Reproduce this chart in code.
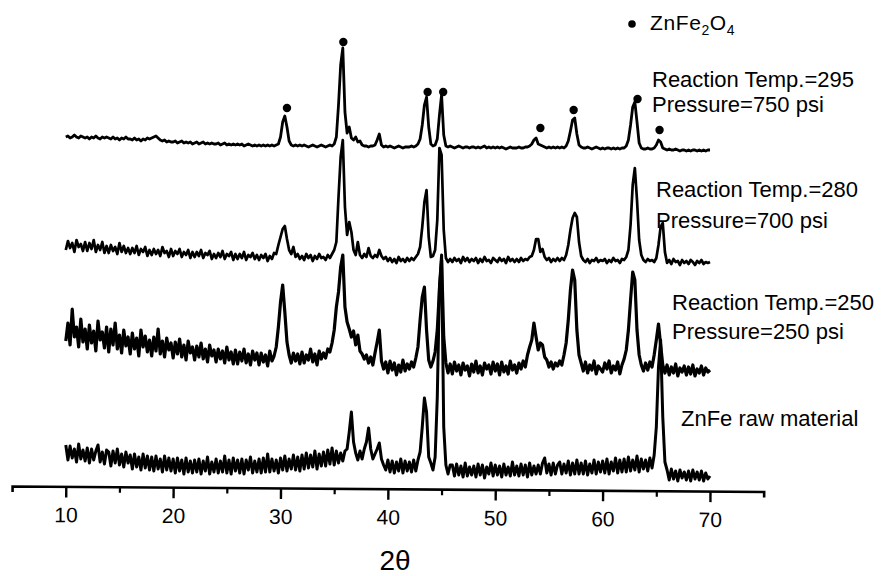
<!DOCTYPE html>
<html>
<head>
<meta charset="utf-8">
<script src="https://cdn.jsdelivr.net/npm/d3@7"></script>
<style>
  body { margin: 0; background: #fff; }
  svg { display: block; font-family: 'Liberation Sans', Arial, sans-serif; }
</style>
</head>
<body>
<svg width="882" height="576"></svg>
<script>
const { select, scaleLinear, axisBottom, line } = d3;

// 2-theta grid of every scan: 10.0 .. 70.0 in 0.2 deg steps
const thetaStart = 10;
const thetaStep = 0.2;

// intensities (a.u.), one row = 2 degrees
const rawMaterial = [
    42, 27, 41, 29, 38, 25, 43, 28, 37, 26,
    39, 24, 38, 27, 36, 42, 25, 35, 23, 37,
    35, 21, 36, 24, 38, 22, 33, 20, 35, 24,
    32, 18, 33, 20, 30, 17, 33, 19, 31, 17,
    30, 16, 31, 18, 28, 15, 31, 17, 29, 16,
    28, 14, 29, 16, 27, 13, 29, 15, 26, 14,
    27, 15, 28, 13, 26, 16, 30, 13, 25, 15,
    28, 14, 26, 15, 31, 14, 27, 13, 29, 16,
    27, 14, 28, 13, 27, 17, 30, 14, 26, 15,
    28, 14, 29, 15, 33, 15, 28, 16, 27, 14,
    29, 17, 31, 16, 28, 18, 32, 17, 30, 16,
    32, 18, 34, 19, 32, 20, 36, 18, 33, 21,
    35, 21, 37, 23, 39, 22, 36, 24, 34, 26,
    36, 38, 55, 75, 45, 34, 27, 36, 28, 38,
    45, 59, 38, 28, 33, 38, 44, 28, 22, 17,
    27, 15, 26, 14, 25, 16, 28, 14, 26, 16,
    25, 15, 27, 16, 27, 35, 60, 89, 75, 30,
    24, 17, 30, 90, 200, 232, 60, 22, 13, 22,
    22, 11, 23, 12, 21, 10, 24, 11, 20, 12,
    21, 10, 23, 12, 22, 9, 20, 13, 24, 11,
    22, 12, 21, 10, 23, 12, 20, 11, 25, 12,
    21, 11, 23, 12, 22, 10, 24, 12, 21, 13,
    22, 13, 24, 29, 14, 23, 12, 24, 13, 22,
    25, 13, 23, 14, 26, 12, 24, 13, 27, 13,
    24, 13, 26, 12, 23, 14, 27, 13, 25, 15,
    26, 14, 28, 13, 25, 16, 29, 14, 27, 15,
    28, 15, 30, 16, 27, 17, 31, 15, 28, 18,
    27, 16, 29, 19, 32, 60, 120, 147, 70, 25,
    17, 7, 18, 8, 16, 6, 17, 9, 15, 7,
    16, 6, 17, 8, 15, 7, 16, 6, 14, 8,
    11
];

const temp250 = [
    46, 64, 42, 78, 50, 60, 40, 68, 45, 58,
    38, 62, 44, 56, 36, 66, 47, 55, 39, 60,
    35, 58, 42, 64, 38, 52, 34, 57, 41, 50,
    33, 54, 38, 49, 31, 57, 40, 51, 35, 47,
    31, 50, 36, 58, 33, 46, 30, 49, 37, 44,
    29, 45, 33, 48, 30, 42, 27, 46, 34, 40,
    27, 41, 30, 44, 28, 38, 25, 42, 31, 37,
    25, 38, 28, 36, 24, 40, 27, 35, 23, 37,
    23, 35, 26, 38, 24, 33, 22, 36, 27, 34,
    22, 34, 25, 32, 21, 36, 26, 31, 40, 60,
    85, 102, 75, 45, 32, 24, 34, 26, 33, 23,
    35, 24, 32, 27, 38, 25, 33, 22, 36, 28,
    34, 29, 38, 35, 44, 57, 80, 95, 120, 132,
    80, 65, 58, 50, 56, 42, 52, 36, 33, 28,
    32, 24, 30, 22, 34, 45, 57, 26, 18, 25,
    14, 26, 17, 24, 12, 22, 15, 27, 16, 23,
    18, 25, 20, 29, 40, 67, 90, 100, 57, 27,
    20, 26, 35, 57, 97, 127, 50, 24, 14, 23,
    13, 25, 16, 22, 12, 24, 17, 21, 11, 23,
    15, 26, 14, 21, 12, 24, 18, 22, 13, 25,
    16, 23, 12, 25, 15, 21, 13, 26, 17, 22,
    14, 24, 18, 26, 20, 32, 40, 47, 64, 50,
    37, 44, 42, 30, 27, 20, 25, 18, 24, 21,
    26, 22, 32, 44, 67, 97, 117, 107, 57, 32,
    24, 16, 25, 14, 22, 17, 26, 13, 21, 18,
    15, 24, 18, 26, 14, 21, 17, 25, 13, 22,
    28, 37, 57, 87, 115, 107, 57, 32, 22, 16,
    24, 17, 25, 20, 32, 47, 63, 42, 22, 14,
    22, 12, 20, 14, 23, 11, 19, 15, 21, 12,
    20, 13, 22, 11, 18, 14, 21, 12, 19, 15,
    17
];

const temp280 = [
    37, 46, 39, 44, 35, 47, 40, 43, 36, 45,
    36, 44, 38, 47, 35, 42, 37, 45, 34, 41,
    34, 42, 36, 40, 33, 44, 35, 41, 34, 39,
    33, 39, 34, 41, 32, 38, 35, 40, 31, 37,
    32, 38, 33, 37, 31, 40, 34, 36, 30, 38,
    31, 36, 33, 38, 30, 35, 32, 37, 29, 35,
    30, 35, 31, 37, 29, 34, 32, 36, 28, 33,
    29, 34, 30, 36, 28, 33, 31, 35, 27, 33,
    28, 33, 29, 35, 27, 32, 30, 34, 28, 32,
    27, 32, 29, 33, 26, 31, 28, 34, 33, 42,
    50, 58, 61, 48, 37, 33, 40, 30, 33, 28,
    31, 27, 33, 29, 32, 26, 31, 28, 33, 29,
    30, 27, 32, 29, 33, 37, 45, 90, 130, 147,
    80, 52, 65, 55, 37, 32, 45, 32, 29, 33,
    30, 39, 31, 29, 32, 30, 37, 31, 28, 30,
    26, 29, 25, 28, 24, 30, 26, 28, 25, 29,
    26, 29, 27, 30, 33, 40, 60, 85, 97, 50,
    30, 31, 37, 67, 139, 132, 57, 29, 25, 28,
    25, 29, 26, 28, 24, 30, 26, 29, 25, 28,
    26, 29, 24, 28, 25, 30, 26, 27, 24, 29,
    27, 25, 29, 26, 28, 24, 30, 26, 28, 25,
    28, 25, 29, 26, 28, 27, 30, 31, 37, 48,
    48, 35, 38, 30, 27, 29, 25, 28, 26, 29,
    26, 29, 27, 32, 42, 57, 69, 74, 70, 45,
    31, 27, 25, 28, 24, 27, 26, 29, 25, 27,
    26, 28, 24, 27, 25, 29, 26, 27, 24, 28,
    27, 30, 37, 62, 102, 119, 87, 47, 32, 27,
    25, 28, 26, 27, 25, 29, 42, 60, 64, 35,
    24, 27, 23, 28, 25, 26, 22, 27, 24, 26,
    23, 27, 25, 22, 26, 24, 27, 23, 25, 24,
    25
];

const temp295 = [
    30, 31, 29, 30, 32, 30, 29, 31, 30, 29,
    30, 28, 30, 29, 31, 29, 28, 30, 29, 30,
    29, 28, 30, 28, 29, 27, 29, 28, 30, 28,
    28, 27, 29, 27, 28, 26, 28, 27, 29, 28,
    29, 30, 31, 29, 27, 26, 27, 25, 26, 25,
    25, 26, 24, 25, 26, 24, 25, 24, 25, 23,
    24, 25, 23, 24, 25, 23, 24, 23, 24, 23,
    23, 24, 22, 23, 24, 22, 23, 22, 23, 22,
    23, 22, 23, 21, 22, 23, 22, 21, 22, 21,
    22, 21, 22, 21, 22, 21, 22, 21, 22, 23,
    30, 45, 51, 40, 26, 22, 21, 22, 21, 22,
    21, 22, 21, 20, 21, 22, 21, 20, 21, 22,
    21, 20, 21, 22, 21, 23, 30, 62, 102, 119,
    55, 34, 40, 29, 27, 30, 25, 26, 22, 21,
    21, 20, 21, 21, 22, 27, 33, 22, 20, 21,
    20, 21, 20, 19, 20, 21, 20, 19, 20, 20,
    20, 21, 20, 21, 23, 28, 42, 62, 70, 40,
    23, 21, 22, 28, 52, 72, 32, 21, 20, 21,
    20, 19, 20, 21, 20, 19, 20, 20, 19, 20,
    20, 19, 20, 19, 20, 21, 19, 20, 19, 20,
    19, 20, 19, 20, 19, 18, 19, 20, 19, 19,
    19, 20, 19, 19, 20, 20, 21, 23, 27, 29,
    23, 22, 21, 20, 19, 20, 19, 20, 19, 20,
    19, 20, 19, 21, 26, 36, 47, 49, 33, 22,
    20, 19, 19, 20, 19, 18, 19, 20, 19, 18,
    19, 18, 19, 19, 18, 19, 18, 19, 18, 19,
    19, 21, 27, 42, 60, 65, 45, 24, 19, 18,
    18, 19, 18, 18, 19, 22, 27, 25, 19, 18,
    17, 18, 17, 17, 18, 17, 16, 17, 17, 16,
    17, 16, 17, 17, 16, 17, 16, 17, 16, 17,
    17
];

// ZnFe2O4 reflections marked on the 295 scan
const markerTheta = [30.6, 35.85, 43.7, 45.15, 54.2, 57.3, 63.25, 65.3];
const markerIntensity = [59, 125, 75, 75, 39, 57, 68, 37];

const majorTicks = [10, 20, 30, 40, 50, 60, 70];
const minorTicks = [15, 25, 35, 45, 55, 65];

const traces = [
    { values: rawMaterial, offset: 0, width: 3,
      label: ['ZnFe raw material'], lx: 681, ly: 426, gap: 0 },
    { values: temp250, offset: 100, width: 3.2,
      label: ['Reaction Temp.=250', 'Pressure=250 psi'], lx: 672, ly: 310, gap: 29 },
    { values: temp280, offset: 200, width: 2.7,
      label: ['Reaction Temp.=280', 'Pressure=700 psi'], lx: 656, ly: 197, gap: 31 },
    { values: temp295, offset: 320, width: 2.8,
      label: ['Reaction Temp.=295', 'Pressure=750 psi'], lx: 652, ly: 87, gap: 25 },
];

const svg = select('svg');

const x = scaleLinear().domain([5, 75]).range([12.1, 763.7]);
const y = scaleLinear().domain([0, 450]).range([487, 37]);

const axisY = 486;

// Axis (the scan is slightly tilted)
const axisG = svg
    .append('g')
    .attr('transform', `rotate(0.42 ${x(5)} ${axisY}) translate(0 ${axisY})`);

axisG
    .call(
        axisBottom(x)
            .tickValues(majorTicks)
            .tickSize(11)
            .tickSizeOuter(6)
            .tickPadding(10)
    )
    .call((g) => g.select('.domain').attr('stroke-width', 2.6))
    .call((g) => g.selectAll('.tick line').attr('stroke-width', 2.4))
    .call((g) =>
        g
            .selectAll('.tick text')
            .attr('font-size', 21)
            .attr('font-family', "'Liberation Sans', Arial, sans-serif")
            .attr('fill', '#000')
    );

axisG
    .append('g')
    .call(axisBottom(x).tickValues(minorTicks).tickSize(6).tickFormat(''))
    .call((g) => g.select('.domain').remove())
    .call((g) => g.selectAll('.tick line').attr('stroke-width', 2.2));

svg
    .append('text')
    .attr('x', 395)
    .attr('y', 570)
    .attr('text-anchor', 'middle')
    .attr('font-size', 28)
    .text('2θ');

// Scans
const scanLine = (offset) =>
    line()
        .x((d, i) => x(thetaStart + i * thetaStep))
        .y((d) => y(d + offset));

svg
    .append('g')
    .selectAll('path')
    .data(traces)
    .join('path')
    .attr('fill', 'none')
    .attr('stroke', '#000')
    .attr('stroke-linejoin', 'round')
    .attr('stroke-width', (d) => d.width)
    .attr('d', (d) => scanLine(d.offset)(d.values));

// Peak markers
svg
    .append('g')
    .selectAll('circle')
    .data(markerTheta)
    .join('circle')
    .attr('cx', (d) => x(d))
    .attr('cy', (d, i) => y(markerIntensity[i] + traces[3].offset))
    .attr('r', 4.2)
    .attr('fill', '#000');

// Scan labels
svg
    .append('g')
    .selectAll('text')
    .data(traces)
    .join('text')
    .attr('font-size', 22)
    .attr('x', (d) => d.lx)
    .attr('y', (d) => d.ly)
    .selectAll('tspan')
    .data((d) => d.label.map((t, i) => ({ t, i, lx: d.lx, gap: d.gap })))
    .join('tspan')
    .attr('x', (d) => d.lx)
    .attr('dy', (d) => (d.i ? d.gap : 0))
    .text((d) => d.t);

// Legend
const legend = svg.append('g');
legend
    .append('circle')
    .attr('cx', 632)
    .attr('cy', 24)
    .attr('r', 3.8)
    .attr('fill', '#000');
const legendText = legend
    .append('text')
    .attr('x', 650)
    .attr('y', 30)
    .attr('font-size', 21)
    .attr('letter-spacing', 0.6);
legendText.append('tspan').text('ZnFe');
legendText.append('tspan').attr('font-size', 14).attr('dy', 5).text('2');
legendText.append('tspan').attr('dy', -5).text('O');
legendText.append('tspan').attr('font-size', 14).attr('dy', 5).text('4');
</script>
</body>
</html>
